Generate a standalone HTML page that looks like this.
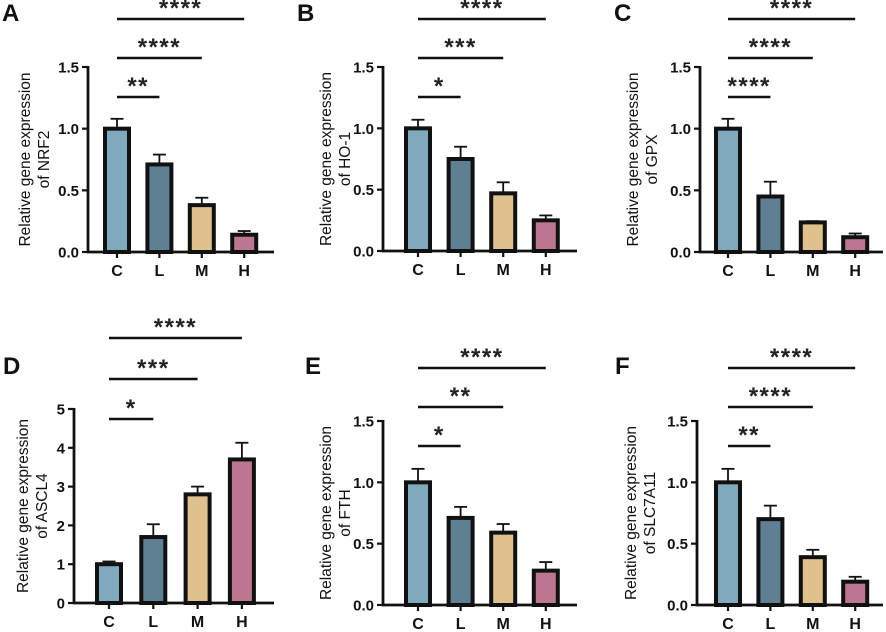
<!DOCTYPE html>
<html><head><meta charset="utf-8"><style>
html,body{margin:0;padding:0;background:#fff;}
svg{display:block;font-family:"Liberation Sans",Arial,sans-serif;}
</style></head><body>
<svg id="fig" width="886" height="632" viewBox="0 0 886 632" xmlns="http://www.w3.org/2000/svg"></svg>
<script>
const categories = ["C","L","M","H"];
const colors = ["#7fa9bc","#5f7f93","#dfc18d","#bc7690"];
const valsA = [1.0,0.71,0.38,0.14]; const errA = [0.08,0.08,0.06,0.03];
const valsB = [1.0,0.75,0.47,0.25]; const errB = [0.07,0.10,0.09,0.04];
const valsC = [1.0,0.45,0.24,0.12]; const errC = [0.08,0.12,0.01,0.03];
const valsD = [1.0,1.7,2.8,3.7];    const errD = [0.07,0.33,0.2,0.43];
const valsE = [1.0,0.71,0.59,0.28]; const errE = [0.11,0.09,0.07,0.07];
const valsF = [1.0,0.70,0.39,0.19]; const errF = [0.11,0.11,0.06,0.04];
const ticks15 = ["0.0","0.5","1.0","1.5"];
const ticks5 = ["0","1","2","3","4","5"];
const starsA = ["**","****","****"];
const starsB = ["*","***","****"];
const starsC = ["****","****","****"];
const starsD = ["*","***","****"];
const starsE = ["*","**","****"];
const starsF = ["**","****","****"];

const NS="http://www.w3.org/2000/svg";
const svg=document.getElementById('fig');
function mk(tag,attrs,parent){const e=document.createElementNS(NS,tag);for(const k in attrs)e.setAttribute(k,attrs[k]);(parent||svg).appendChild(e);return e;}

const panels=[
 {id:"a",letter:"A",lx:2,ly:21,ax:88,yTop:67,y0:252,xEnd:274,cx0:117,dx:42.4,max:1.5,ticks:ticks15,vals:valsA,errs:errA,stars:starsA,br:[97,58,19],gene:"NRF2",yl:-58},
 {id:"b",letter:"B",lx:297,ly:21,ax:383,yTop:67,y0:251,xEnd:577,cx0:418,dx:42.6,max:1.5,ticks:ticks15,vals:valsB,errs:errB,stars:starsB,br:[97,58,19],gene:"HO-1",yl:-52},
 {id:"c",letter:"C",lx:614,ly:21,ax:700,yTop:67,y0:252,xEnd:883,cx0:728,dx:42.4,max:1.5,ticks:ticks15,vals:valsC,errs:errC,stars:starsC,br:[97,58,19],gene:"GPX",yl:-62},
 {id:"d",letter:"D",lx:3,ly:374,ax:74,yTop:409,y0:603,xEnd:274,cx0:109,dx:44.3,max:5,ticks:ticks5,vals:valsD,errs:errD,stars:starsD,br:[419,379,338],gene:"ASCL4",yl:-46},
 {id:"e",letter:"E",lx:305,ly:374,ax:383,yTop:421,y0:605,xEnd:577,cx0:418,dx:42.6,max:1.5,ticks:ticks15,vals:valsE,errs:errE,stars:starsE,br:[446,407,368],gene:"FTH",yl:-52},
 {id:"f",letter:"F",lx:615,ly:374,ax:697,yTop:421,y0:605,xEnd:883,cx0:728,dx:42.4,max:1.5,ticks:ticks15,vals:valsF,errs:errF,stars:starsF,br:[446,407,368],gene:"SLC7A11",yl:-61}
];

panels.forEach(p=>{
  const g=mk('g',{});
  
  
  const yS=v=>p.y0-(v/p.max)*(p.y0-p.yTop);
  const xS=i=>p.cx0+i*p.dx;
  const lt=mk('text',{x:p.lx,y:p.ly,'font-size':24,'font-weight':'bold',fill:'#111'},g);lt.textContent=p.letter;
  
  
  p.vals.forEach((v,i)=>{
    const cx=xS(i), top=yS(v), et=yS(v+p.errs[i]);
    const eb=mk('line',{x1:cx,x2:cx,y1:top,y2:et,stroke:'#111','stroke-width':1.8},g);
    
    
    mk('line',{x1:cx-6.5,x2:cx+6.5,y1:et,y2:et,stroke:'#111','stroke-width':1.8},g);
    const r=mk('rect',{x:cx-12,y:top,width:24,height:p.y0-top,fill:colors[i],stroke:'#111','stroke-width':4},g);
    
    
    mk('line',{x1:cx,x2:cx,y1:p.y0,y2:p.y0+6,stroke:'#111','stroke-width':2.2},g);
    const xl=mk('text',{x:cx,y:p.y0+24,'font-size':16,'font-weight':'bold','text-anchor':'middle',fill:'#111'},g);xl.textContent=categories[i];
    
    
  });
  const ya=mk('line',{x1:p.ax,x2:p.ax,y1:p.yTop-1,y2:p.y0+1,stroke:'#111','stroke-width':2.8},g);
  
  
  const xa=mk('line',{x1:p.ax-1,x2:p.xEnd,y1:p.y0,y2:p.y0,stroke:'#111','stroke-width':2.8},g);
  
  
  p.ticks.forEach((t,i)=>{
    const v=parseFloat(t), y=yS(v);
    mk('line',{x1:p.ax-6,x2:p.ax,y1:y,y2:y,stroke:'#111','stroke-width':2.2},g);
    const tl=mk('text',{x:p.ax-9,y:y+5.5,'font-size':15,'font-weight':'bold','text-anchor':'end',fill:'#111'},g);tl.textContent=t;
    
    
  });
  const cy=(p.yTop+p.y0)/2, lx=p.ax+p.yl;
  const yt=mk('text',{transform:`translate(${lx},${cy}) rotate(-90)`,'font-size':15.5,'text-anchor':'middle',fill:'#111'},g);
  
  
  const t1=mk('tspan',{x:0,y:0},yt);t1.textContent='Relative gene expression';
  const t2=mk('tspan',{x:0,y:19},yt);t2.textContent='of '+p.gene;
  p.stars.forEach((s,k)=>{
    const x1=xS(0), x2=xS(k+1), y=p.br[k];
    const bl=mk('line',{x1:x1,x2:x2,y1:y,y2:y,stroke:'#111','stroke-width':2.6},g);
    
    
    const st=mk('text',{x:(x1+x2)/2,y:y-3,'font-size':24,'font-weight':'bold','text-anchor':'middle',fill:'#222','letter-spacing':'1.5'},g);st.textContent=s;
    
    
  });
});
</script>
</body></html>
